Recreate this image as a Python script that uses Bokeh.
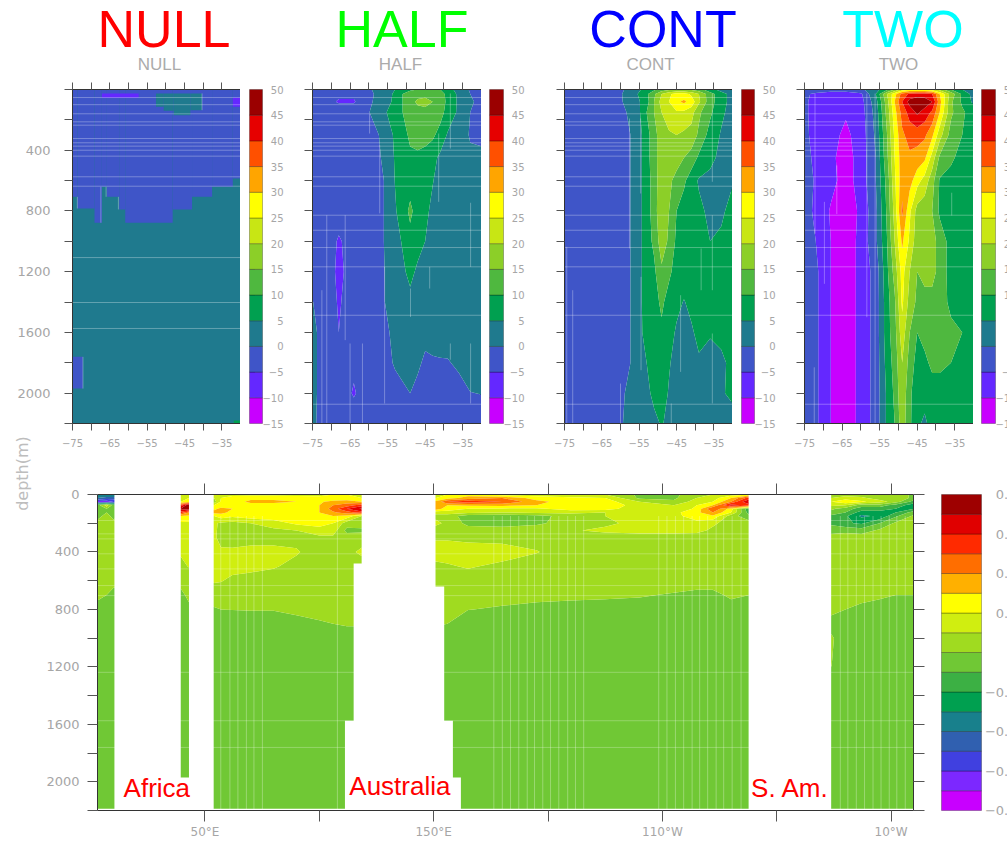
import numpy as np
from bokeh.plotting import figure
from bokeh.layouts import column, row
from bokeh.models import Range1d, FixedTicker, LinearAxis
from bokeh.core.properties import value
from bokeh.embed import file_html
from bokeh.resources import INLINE

# ---------- upper panels: overturning (lat x depth) ----------
lat_nodes = [-75, -72, -68, -64, -60, -56, -53, -51, -49, -47, -45, -43, -41, -39, -36, -33, -30]
depth_nodes = [0, 30, 80, 150, 300, 450, 600, 800, 1000, 1200, 1400, 1600, 1800, 2000, 2200]

half_z = [
    [-1, -1, -1.5, -2, -0.5, 2, 5, 7, 9, 10, 11, 11, 10, 7, 3, -0.5, -1],
    [-2, -2, -4, -4, -1, 2, 6, 10, 13, 14, 14, 14, 13, 8, 4, 0, -1],
    [-2, -3, -5.5, -5.5, -1, 3, 6, 10, 14, 15.5, 16, 15, 13.5, 8.5, 4, 0.5, -1],
    [-2, -2, -2, -2, -0.2, 4, 8, 10, 13, 14, 14, 14, 12, 8, 4, 0, -1],
    [-2, -2, -2, -2, -2, 1, 6, 8, 11, 12, 12, 11, 8, 4.5, 3, -0.5, -1],
    [-2, -2, -2, -2, -2, 0.5, 5.5, 8, 9, 9, 8, 6.5, 4, 3, 2, 1, 1],
    [-2, -2, -2, -2, -2, 0, 5.2, 7, 8, 8, 7, 5.2, 3.5, 3, 2, 2, 2],
    [-2, -2, -3, -2, -2, 0, 4.5, 7.5, 11, 8, 6, 4, 3, 2.5, 2, 2, 2],
    [-2, -2, -5.5, -3, -2, 0, 3, 5.5, 8.5, 7, 5, 3, 2.5, 2, 2, 2, 2],
    [-2, -2, -6, -3, -2, -0.2, 2.5, 4, 6.5, 4, 3, 2.5, 2, 2, 2, 2, 2],
    [0.1, -1.5, -5.5, -2.5, -2, -0.2, 2, 3, 3.5, 3, 2.5, 2.5, 2, 2, 2, 2, 2],
    [1, -1.5, -5, -2, -2, -1, 1, 2, 2, 1.5, 0.8, 1, 1.5, 1.2, 1, 2, 2],
    [1, -1.5, -2, -4, -2, -1, 0.3, 0.8, 1, 0.5, -0.5, -0.3, -0.3, -0.2, 0.5, 2, 2],
    [1, -1.5, -2, -5.5, -2, -2, -1, -0.5, 0, -0.8, -1, -1, -1, -1, -1, -0.1, 0.1],
    [1, -2, -2, -2, -2, -2, -2, -2, -2, -2, -2, -2, -2, -2, -2, -2, -2],
]
cont_z = [
    [-2, -2, -2, -2, -1, 3, 7, 9, 12, 14, 15, 15, 14, 12, 7, 3, 2],
    [-2, -2, -2, -2, -0.5, 4, 9, 14, 20, 24, 27, 27, 24, 20, 12, 7, 3],
    [-2, -2, -2, -2, -0.5, 3, 8, 15, 22, 25, 29, 31, 28, 21, 12, 7, 3],
    [-2, -2, -2, -2, -1, 1.5, 10, 15, 20, 24, 24.5, 24, 22, 16, 11, 6, 3],
    [-2, -2, -2, -2, -2, 1, 8, 13, 18, 19, 20, 19, 18, 14, 8, 4.5, 3],
    [-2, -2, -2, -2, -2, 1, 8, 13, 18, 19, 19, 15, 13, 9, 6, 4, 3],
    [-2, -2, -2, -2, -2, 1, 8, 12, 19, 17, 12, 11, 7, 4.5, 4, 4, 4.5],
    [-2, -2, -2, -2, -2, 1, 8, 12, 20, 15, 10, 7.5, 6.5, 6, 4, 4, 7],
    [-2, -2, -2, -2, -2, 1, 8, 11, 18, 14, 9, 8, 7, 6, 5, 6, 8],
    [-2, -2, -2, -2, -2, 1, 8, 9, 14, 11, 8, 7, 7, 6, 5.2, 7, 8],
    [-2, -2, -2, -2, -2, 1, 8, 8, 11, 8, 6, 4.8, 6, 6, 6, 7, 8],
    [-2, -2, -2, -2, -2, 1, 7.5, 7.5, 9, 6.5, 4.5, 4, 4.5, 6, 5.5, 7, 8],
    [-2, -2, -2, -2, -2, 1, 5, 7, 8, 5.5, 3, 3, 3.5, 4.5, 3, 3.5, 7],
    [-2, -2, -2, -2, -0.2, 0.5, 3.5, 6.5, 7.5, 4.5, 2.5, 2.5, 3, 3, 3.5, 4.5, 6],
    [-2, -2, -2, -2, -0.2, 1, 2, 3.5, 5.5, 3.5, 2.5, 2.5, 3, 3, 3, 3, 3],
]
two_z = [
    [-2, -2, -3, -3, -1, 3, 9, 15, 22, 24, 24, 24, 22, 18, 10, 5, 2],
    [-4, -6, -7, -7, -6, 5, 20, 28, 37, 41, 42, 42, 40, 30, 18, 9, 3],
    [-4, -7, -8, -9, -7, 3, 18, 30, 40, 47, 49, 48, 45, 32, 16, 9, 4],
    [-4, -7, -9, -9.5, -7.5, 2, 17, 28, 37, 42, 46, 43, 39, 30, 16, 11, 7],
    [-4, -6.5, -8.5, -11, -8, 1, 15, 26, 34, 37, 37, 36, 31, 22, 13, 10, 5],
    [-3.5, -6, -9, -12, -8, 0, 14, 25, 33, 34, 33, 31, 23, 14, 11, 8, 6],
    [-3, -5.5, -8.5, -12, -8, 0, 12, 24, 33, 32, 27, 23, 17, 9.5, 8, 8, 9],
    [-3, -6, -10.5, -13, -9, -1, 11, 22, 36, 26, 18, 17, 15, 9, 6, 8, 10],
    [-3, -5, -10, -13, -8.5, -1, 10, 20, 31, 24, 17, 16, 17, 13, 8, 8, 8],
    [-3, -4, -10, -13, -8.5, -3, 9, 17, 27, 20, 15, 16, 17, 13, 8, 9, 9],
    [-3, -4, -10, -13, -8.5, -3, 8, 14, 26, 18, 14, 14, 13, 12, 9, 9, 9],
    [-3, -4, -10, -13, -8.5, -3, 8, 13, 23, 15, 10, 11.5, 12, 12, 11, 10, 9],
    [-3, -4, -10, -13, -8.5, -3, 7, 12, 20, 13, 8, 9, 11, 11, 10, 9, 9],
    [-3, -4, -10, -13, -8.5, -3, 6, 11, 19, 11, 7, 7, 8, 8, 8, 8, 8],
    [-3, -4, -10, -13, -8.5, -3, 6, 10, 18, 11, 6, 4, 7, 8, 8, 8, 8],
]

# NULL: blocky field, blue above a stepped depth, teal below
null_lat_edges = [-75, -73.66, -69.1, -67.13, -65.79, -62.48, -60.87, -48.17, -42.98, -37.61, -32.07, -30]
null_blue_bottom = [707, 784, 878, 641, 707, 790, 878, 790, 707, 641, 586]
null_cell_lat0 = [-52.64, -50.58, -47.9, -43.43, -67.13, -32.07, -75, -31.8]
null_cell_lat1 = [-50.58, -47.9, -43.43, -40.3, -57.29, -30, -72.23, -30]
null_cell_d0 = [26, 26, 26, 26, 26, 55, 1761, 2180]
null_cell_d1 = [114, 140, 169, 136, 55, 114, 1970, 2200]
null_cell_val = [2, 2, 2, 2, -7, -7, -2, 7]

# faint shading seams
seam_depths = [53, 100, 160, 213, 235, 323, 351, 373, 400, 439, 575, 637]
null_seam_depths = [1107, 1403, 1574]
other_seam_depths = [828, 927, 1041, 1168, 1487, 2073]
null_v = ([-72.2, -67.4, -66, -73.7, -62.7, -40.3], [1761, 641, 641, 707, 707, 26], [1970, 878, 707, 784, 790, 136])
half_v = ([-71.2, -66.3, -72.5, -65, -61.7, -59.8, -57.1, -55.8, -41.4, -43.8, -38.3, -32.9, -32.9, -38.3, -48.9],
          [828, 828, 1322, 1673, 1673, 158, 367, 1168, 290, 1168, 26, 746, 1673, 1673, 1311],
          [2200, 1651, 2200, 2200, 2200, 290, 816, 2068, 740, 1311, 389, 1168, 2068, 1780, 1498])
cont_v = ([-74.4, -72.8, -57.6, -54.5, -54.6, -38.4, -35.4, -35.4, -35.4, -43.9, -46.4, -60],
          [1036, 1322, 191, 1234, 191, 1047, 26, 828, 1607, 1355, 2068, 1937],
          [2200, 2200, 1047, 1849, 685, 1322, 608, 1322, 2068, 1860, 2200, 2200])
two_v = ([-72.2, -69.7, -66.4, -72.4, -58.4, -56.2, -35.8],
         [26, 740, 500, 1830, 26, 26, 680],
         [950, 1280, 820, 2200, 1500, 2200, 830])

levels_upper = [-15, -10, -5, 0, 5, 10, 15, 20, 25, 30, 35, 40, 45, 50]
colors_upper = ["#c800ff", "#6428ff", "#3f55c8", "#1f7a8e", "#00a050", "#4fb83f", "#8ccf28",
                "#c8e614", "#ffff00", "#ffa500", "#ff5000", "#e60000", "#9b0000"]
labels_upper = ["−15", "−10", "−5", "0", "5", "10", "15", "20", "25", "30", "35", "40", "45", "50"]
lat_ticks = [-75, -70, -65, -60, -55, -50, -45, -40, -35, -30]
lat_labels = {-75: "−75", -65: "−65", -55: "−55", -45: "−45", -35: "−35"}
depth_ticks = [0, 200, 400, 600, 800, 1000, 1200, 1400, 1600, 1800, 2000, 2200]
depth_labels = {400: "400", 800: "800", 1200: "1200", 1600: "1600", 2000: "2000"}

# ---------- lower panel: section (lon x depth) ----------
lon_nodes = [3, 7, 10, 39.5, 43,
             54, 57, 62, 70, 80, 90, 100, 106, 112, 118.5,
             151, 156, 165, 180, 195, 210, 225, 240, 255, 265, 272, 280, 288,
             324, 330, 337, 345, 352, 360]
section_depths = [0, 25, 50, 75, 100, 125, 150, 200, 250, 300, 400, 500, 600, 700, 800, 900, 1000, 2200]
section_z = [
    [-.3, -.3, -.3, .15, .15, .15, .15, .15, .15, .15, .15, .15, .2, .2, .2, .15, .2, .25, .15, .15, .12, .1, -.02, -.02, .05, .1, .15, .2, .05, .05, .05, .05, .05, -.02],
    [-.4, -.45, -.45, .15, .2, .1, .2, .27, .29, .29, .28, .25, .25, .22, .2, .2, .25, .35, .4, .25, .22, .2, -.02, -.02, .1, .15, .3, .55, .1, .15, .12, .05, .05, -.02],
    [-.65, -.65, -.6, .2, .25, .05, .22, .28, .31, .31, .3, .29, .32, .35, .3, .32, .5, .55, .5, .33, .25, .25, .1, .02, .15, .2, .4, .72, .2, .27, .22, .15, .05, -.15],
    [-.05, .15, -.05, .55, .8, .2, .25, .28, .28, .28, .28, .3, .4, .45, .55, .38, .3, .32, .33, .3, .27, .27, .15, .1, .2, .3, .65, .55, .12, .1, -.05, -.05, -.15, -.25],
    [-.05, 0, -.05, .72, .75, .28, .32, .3, .27, .27, .27, .3, .45, .6, .72, .35, .25, .2, .18, .18, .25, .25, .12, .12, .22, .5, .25, -.2, .02, -.05, -.15, -.15, -.2, -.2],
    [-.05, 0, -.05, .55, .4, .33, .33, .27, .27, .27, .27, .3, .38, .45, .55, .12, .15, .12, .1, .12, .12, .1, .12, .17, .27, .4, .2, -.15, -.05, -.1, -.25, -.25, -.2, -.05],
    [-.02, .02, -.02, .3, .28, .2, .25, .22, .25, .26, .27, .28, .3, .27, .1, .08, .05, -.05, -.06, -.04, .05, .1, .15, .17, .25, .28, .05, -.08, -.12, -.18, -.32, -.28, -.12, .02],
    [.02, .02, .02, .18, .18, .12, .08, .07, .1, .15, .22, .25, .2, .05, .05, .12, .08, -.03, -.05, -.02, .05, .08, .13, .17, .17, .12, .05, .05, -.12, -.18, -.22, -.1, .02, .05],
    [.05, .05, .05, .15, .15, .12, .07, .05, .06, .08, .1, .15, .15, -.03, -.02, .06, .05, .05, .05, .06, .09, .12, .14, .14, .13, .08, .05, .05, -.05, -.03, -.05, .02, .05, .05],
    [.05, .05, .05, .13, .13, .12, .06, .05, .05, .05, .07, .08, .08, .05, .05, .09, .09, .08, .07, .06, .05, .05, .05, .05, .05, .05, .05, .05, .05, .05, .05, .05, .05, .05],
    [.05, .05, .05, .11, .12, .14, .12, .12, .14, .14, .11, .05, .05, .07, .12, .14, .14, .14, .14, .105, .05, .05, .05, .05, .05, .05, .05, .05, .05, .05, .05, .05, .05, .05],
    [.05, .05, .05, .08, .105, .13, .13, .13, .13, .11, .07, .05, .05, .05, .05, .08, .09, .11, .08, .05, .05, .05, .05, .05, .05, .05, .05, .05, .05, .05, .05, .05, .05, .05],
    [.03, .03, .03, .04, .05, .11, .105, .08, .06, .05, .05, .05, .05, .05, .05, .05, .05, .05, .05, .05, .05, .05, .05, .05, .05, .05, .05, .05, .05, .05, .05, .05, .05, .05],
    [.03, 0, -.03, -.03, .03, .05, .05, .05, .05, .05, .05, .05, .05, .05, .05, .03, .03, .03, .03, .03, .03, .02, .01, -.01, -.03, -.03, .02, 0, .05, .05, .04, .02, 0, 0],
    [-.05, -.05, -.05, -.03, -.03, -.01, 0, .002, .005, .005, .02, .03, .04, .05, .05, .05, .04, .002, -.01, -.03, -.05, -.05, -.05, -.05, -.05, -.05, -.05, -.05, .02, 0, -.03, -.05, -.05, -.05],
    [-.05, -.05, -.05, -.05, -.05, -.05, -.05, -.05, -.05, -.05, -.03, -.01, 0, .01, .01, .01, 0, -.05, -.05, -.05, -.05, -.05, -.05, -.05, -.05, -.05, -.05, -.05, -.03, -.05, -.05, -.05, -.05, -.05],
    [-.05, -.05, -.05, -.05, -.05, -.05, -.05, -.05, -.05, -.05, -.05, -.05, -.05, -.05, -.05, -.05, -.05, -.05, -.05, -.05, -.05, -.05, -.05, -.05, -.05, -.05, -.05, -.05, .01, -.05, -.05, -.05, -.05, -.05],
    [-.05, -.05, -.05, -.05, -.05, -.05, -.05, -.05, -.05, -.05, -.05, -.05, -.05, -.05, -.05, -.05, -.05, -.05, -.05, -.05, -.05, -.05, -.05, -.05, -.05, -.05, -.05, -.05, -.05, -.05, -.05, -.05, -.05, -.05],
]
land_lon0 = [10.4, 43, 38.5, 118.5, 115, 111.2, 149, 153, 157, 287.7, 3]
land_lon1 = [39.4, 53.8, 44, 150.8, 120, 116, 154.6, 158.4, 161.9, 323.8, 360]
land_d0 = [0, 0, 1970, 0, 480, 1575, 640, 1575, 1970, 0, 2188]
land_d1 = [2200, 2200, 2200, 2200, 2200, 2200, 2200, 2200, 2200, 2200, 2200]

section_seam_lons = [56.9, 60.9, 64.4, 68.1, 71.4, 75.1, 107.9, 176.3, 180, 183.6, 187.2, 190.9, 194.1, 197.7,
                     201.1, 204.7, 208.6, 212, 215.6, 248.4, 252, 255.7, 259.3, 263, 266.3, 269.8, 273.5, 276.8,
                     280.5, 284.4, 327.8, 331.1, 334.8, 338.4, 342.1, 345.6, 349.2, 352.5, 356.2]
section_seam_depths = [181, 274, 309, 413, 518, 634, 704, 1238, 1575, 1761]

levels_lower = [-.8, -.7, -.6, -.5, -.4, -.3, -.2, -.1, 0, .1, .2, .3, .4, .5, .6, .7, .8]
colors_lower = ["#c800ff", "#7c28ff", "#4040e0", "#3060b0", "#18808c", "#00a050", "#3cb044", "#70c835",
                "#a0db20", "#d0ee10", "#ffff00", "#ffb000", "#ff6e00", "#ff2a00", "#e00000", "#9e0000"]
cbar_lower_values = [-.8, -.6, -.4, -.2, 0, .2, .4, .6, .8]
cbar_lower_labels = ["−0.8", "−0.6", "−0.4", "−0.2", "0", "0.2", "0.4", "0.6", "0.8"]
lon_ticks = [50, 100, 150, 200, 250, 300, 350]
lon_labels = {50: "50°E", 150: "150°E", 250: "110°W", 350: "10°W"}

titles = ["NULL", "HALF", "CONT", "TWO"]
title_colors = ["#ff0000", "#00ff00", "#0000ff", "#00ffff"]
region_names = ["Africa", "Australia", "S. Am."]
region_lons = [14.4, 113.1, 288.8]
region_depths = [2040, 2026, 2040]

# ---------- styling ----------
LBL = "#a6a6a6"
TICK = "#555555"
FONT = value("DejaVu Sans")


def style_axis(ax, ticks, labels, size, out, standoff):
    ax.ticker = FixedTicker(ticks=ticks)
    ax.major_label_overrides = {t: labels.get(t, "") for t in ticks}
    ax.major_label_text_font = "DejaVu Sans"
    ax.major_label_text_font_size = size
    ax.major_label_text_color = LBL
    ax.major_label_standoff = standoff
    ax.major_tick_out = out
    ax.major_tick_in = 0
    ax.minor_tick_out = 0
    ax.minor_tick_in = 0
    ax.major_tick_line_color = TICK
    ax.axis_line_color = "#333333"


def panel(width, left, lat_lab, dep_lab):
    p = figure(width=width, height=389, min_border_left=left, min_border_right=0,
               min_border_top=8, min_border_bottom=47,
               x_range=Range1d(-75, -30), y_range=Range1d(2200, 0),
               toolbar_location=None, output_backend="svg")
    p.grid.visible = False
    p.outline_line_color = "#223344"
    p.border_fill_color = None
    style_axis(p.xaxis[0], lat_ticks, lat_lab, "10px", 7, 8)
    style_axis(p.yaxis[0], depth_ticks, dep_lab, "13px", 8, 14)
    top = LinearAxis()
    style_axis(top, lat_ticks, {}, "1px", 7, 0)
    p.add_layout(top, "above")
    return p


def seams(p, depths, v, lo=-75, hi=-30):
    p.segment(x0=[lo] * len(depths), x1=[hi] * len(depths), y0=depths, y1=depths,
              line_color="#ffffff", line_alpha=0.3, line_width=1)
    p.segment(x0=v[0], x1=v[0], y0=v[1], y1=v[2], line_color="#ffffff", line_alpha=0.3, line_width=1)


def colorbar(width, left, bar, height, top, bar_h, levels, colors, vals, labs, offset, size):
    """The whole figure is the frame, so that the side labels stay inside it; the box scale follows the levels."""
    lo, hi = levels[0], levels[-1]
    per_px = (hi - lo) / bar_h
    bottom_px = height - top - bar_h
    c = figure(width=width, height=height, min_border=0,
               x_range=Range1d(0, width), y_range=Range1d(lo - bottom_px * per_px, hi + top * per_px),
               toolbar_location=None, output_backend="svg", x_axis_location=None, y_axis_location=None)
    c.grid.visible = False
    c.outline_line_color = None
    c.border_fill_color = None
    c.background_fill_color = None
    c.quad(left=left, right=left + bar, bottom=levels[:-1], top=levels[1:], fill_color=colors,
           line_color="#000000", line_alpha=0.28, line_width=1)
    c.text(x=[left + offset] * len(vals), y=vals, text=labs, text_align="right", text_baseline="middle",
           text_color=LBL, text_font=FONT, text_font_size=size)
    return column(c)


def level_colors(vals):
    idx = np.digitize(vals, levels_upper) - 1
    return [colors_upper[i] for i in idx]


# ---------- header ----------
head = figure(width=1007, height=81, min_border=0, x_range=Range1d(0, 1007), y_range=Range1d(81, 0),
              toolbar_location=None, output_backend="svg", x_axis_location=None, y_axis_location=None)
head.grid.visible = False
head.outline_line_color = None
head.text(x=[163.5, 401.5, 662.5, 902.5], y=[28] * 4, text=titles, text_color=title_colors,
          text_align="center", text_baseline="middle", text_font=value("Liberation Sans"), text_font_size="52px")
head.text(x=[159, 400, 650, 898], y=[64] * 4, text=titles, text_color="#ababab",
          text_align="center", text_baseline="middle", text_font=value("Liberation Sans"), text_font_size="17px")

# ---------- upper row ----------
dl = lat_labels
p1 = panel(240, 72, dl, depth_labels)
p1.quad(left=-75, right=-30, bottom=2200, top=0, fill_color=colors_upper[3], line_color=None)
p1.quad(left=null_lat_edges[:-1], right=null_lat_edges[1:], top=[0] * len(null_blue_bottom), bottom=null_blue_bottom,
        fill_color=colors_upper[2], line_color=None)
p1.quad(left=null_cell_lat0, right=null_cell_lat1, top=null_cell_d0, bottom=null_cell_d1,
        fill_color=level_colors(null_cell_val), line_color=None)
seams(p1, seam_depths + null_seam_depths, null_v)
c1 = colorbar(58, 9, 13, 389, 8, 334, levels_upper, colors_upper, levels_upper, labels_upper, 34, "10px")

p2 = panel(183, 14, dl, {})
p2.contour(lat_nodes, depth_nodes, np.array(half_z, float), levels_upper, fill_color=colors_upper, line_color=None)
seams(p2, seam_depths + other_seam_depths, half_v)
c2 = colorbar(70, 8, 14, 389, 8, 334, levels_upper, colors_upper, levels_upper, labels_upper, 35, "10px")

p3 = panel(181, 13, dl, {})
p3.contour(lat_nodes, depth_nodes, np.array(cont_z, float), levels_upper, fill_color=colors_upper, line_color=None)
seams(p3, seam_depths + other_seam_depths, cont_v)
c3 = colorbar(60, 9, 13, 389, 8, 334, levels_upper, colors_upper, levels_upper, labels_upper, 34, "10px")

p4 = panel(181, 12, dl, {})
p4.contour(lat_nodes, depth_nodes, np.array(two_z, float), levels_upper, fill_color=colors_upper, line_color=None)
seams(p4, seam_depths + other_seam_depths, two_v)
c4 = colorbar(34, 8, 14, 389, 8, 334, levels_upper, colors_upper, levels_upper, labels_upper, 35, "10px")

top_row = row(p1, c1, p2, c2, p3, c3, p4, c4)

# ---------- lower row ----------
d = figure(width=40, height=414, min_border=0, x_range=Range1d(0, 40), y_range=Range1d(414, 0),
           toolbar_location=None, output_backend="svg", x_axis_location=None, y_axis_location=None)
d.grid.visible = False
d.outline_line_color = None
d.background_fill_color = None
d.border_fill_color = None
d.text(x=[22], y=[45], text=["depth(m)"], angle=np.pi / 2, text_color="#bdbdbd", text_align="center",
       text_baseline="middle", text_font=FONT, text_font_size="16px")

s = figure(width=897, height=414, min_border_left=57, min_border_right=24, min_border_top=66, min_border_bottom=32,
           x_range=Range1d(3, 359.8), y_range=Range1d(2200, 0), toolbar_location=None, output_backend="svg")
s.background_fill_color = "#ffffff"
s.border_fill_color = None
s.grid.visible = False
s.outline_line_color = None
style_axis(s.xaxis[0], lon_ticks, lon_labels, "12px", 11, 3)
style_axis(s.yaxis[0], depth_ticks, {0: "0", **depth_labels}, "13px", 10, 8)
for side in ("above", "right"):
    ax = LinearAxis()
    style_axis(ax, lon_ticks if side == "above" else depth_ticks, {}, "1px", 11, 0)
    s.add_layout(ax, side)
s.contour(lon_nodes, section_depths, np.array(section_z, float), levels_lower, fill_color=colors_lower, line_color=None)
s.segment(x0=section_seam_lons, x1=section_seam_lons, y0=[150] * len(section_seam_lons), y1=[2200] * len(section_seam_lons),
          line_color="#ffffff", line_alpha=0.3, line_width=1)
s.segment(x0=[3] * len(section_seam_depths), x1=[360] * len(section_seam_depths), y0=section_seam_depths, y1=section_seam_depths,
          line_color="#ffffff", line_alpha=0.25, line_width=1)
s.quad(left=land_lon0, right=land_lon1, top=land_d0, bottom=land_d1, fill_color="#ffffff", line_color=None)
s.text(x=region_lons, y=region_depths, text=region_names, text_color="#ff0000", text_align="left", text_baseline="middle",
       text_font=value("Liberation Sans"), text_font_size="26px")

c5 = colorbar(70, 4, 40, 414, 66, 316, levels_lower, colors_lower, cbar_lower_values, cbar_lower_labels, 75, "13px")

low_row = row(column(d), s, c5, margin=(-42, 0, 0, 0))

page = column(head, top_row, low_row)
open("out.html", "w").write(file_html(page, INLINE))
